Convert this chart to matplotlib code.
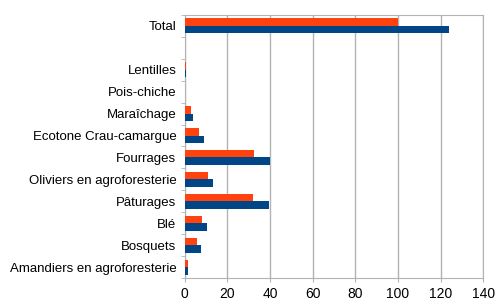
import matplotlib.pyplot as plt
import numpy as np

plt.rcParams['font.family'] = ['Liberation Sans', 'DejaVu Sans']

# categories bottom -> top ('' is the empty slot under Total)
categories = ['Amandiers en agroforesterie', 'Bosquets', 'Blé', 'Pâturages',
              'Oliviers en agroforesterie', 'Fourrages', 'Ecotone Crau-camargue',
              'Maraîchage', 'Pois-chiche', 'Lentilles', '', 'Total']
serie_orange = [1.4, 5.9, 8.2, 32.0, 11.0, 32.6, 6.7, 3.1, 0.0, 0.6, 0.0, 100.0]
serie_bleue = [1.4, 7.5, 10.5, 39.4, 13.4, 40.0, 9.0, 3.9, 0.0, 0.6, 0.0, 124.0]
xticks = [0, 20, 40, 60, 80, 100, 120, 140]

fig = plt.figure(figsize=(4.97, 3.04), dpi=100)
ax = fig.add_axes([0.3716, 0.0855, 0.6009, 0.8652])

y = np.arange(len(categories))
h = 0.34
ax.barh(y + h/2, serie_orange, height=h, color='#ff420e', zorder=3)
ax.barh(y - h/2, serie_bleue, height=h, color='#004586', zorder=3)

ax.set_xlim(0, 140)
ax.set_ylim(-0.5, len(categories) - 0.5)
ax.set_xticks(xticks)
ax.set_yticks(y)
ax.set_yticklabels(categories)
ax.set_yticks(np.arange(len(categories) + 1) - 0.5, minor=True)
ax.tick_params(axis='y', which='major', length=0, pad=6, labelsize=9.5)
ax.tick_params(axis='y', which='minor', length=3, color='#b3b3b3')
ax.tick_params(axis='x', length=3, color='#b3b3b3', labelsize=10)
ax.grid(axis='x', color='#b3b3b3', linewidth=1, zorder=0)
for s in ax.spines.values():
    s.set_color('#b3b3b3')

fig.savefig('out.png', dpi=100)
